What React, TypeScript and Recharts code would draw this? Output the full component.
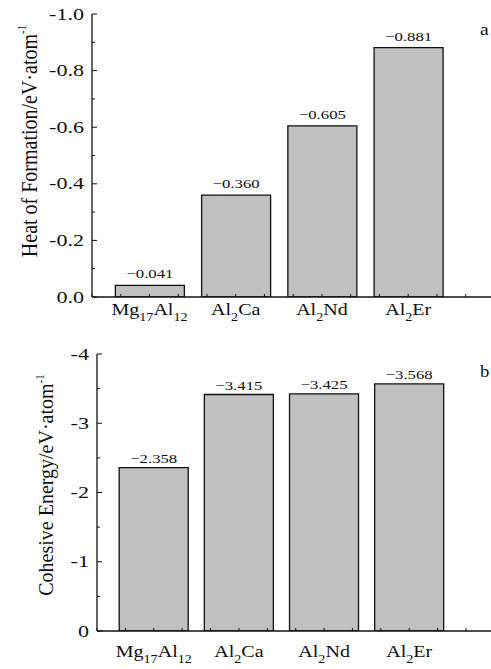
import React from "react"
import { Bar, BarChart, LabelList, XAxis, YAxis } from "recharts"

const CATEGORIES = ["Mg17Al12", "Al2Ca", "Al2Nd", "Al2Er"]
const HEAT_OF_FORMATION = [-0.041, -0.36, -0.605, -0.881]
const COHESIVE_ENERGY = [-2.358, -3.415, -3.425, -3.568]

const HEAT_TICKS = [-1, -0.9, -0.8, -0.7, -0.6, -0.5, -0.4, -0.3, -0.2, -0.1, 0]
const COHESIVE_TICKS = [-4, -3.5, -3, -2.5, -2, -1.5, -1, -0.5, 0]
// minor ticks along the category axis, every third of a slot
const X_TICKS = [1, 2, 3, 4, 5, 6, 7, 8, 9, 10, 11, 12, 13, 14].map((k) => k / 3)
const X_DOMAIN: [number, number] = [1 / 3, 4.96]
const TOP_TICKS = [1, 2, 3, 4, 5, 6, 7, 8, 9]

const FONT = '"Liberation Serif", "Times New Roman", serif'
const INK = "#111"
const BAR_FILL = "#c0c0c0"

const heatData = CATEGORIES.map((name, i) => ({ x: i + 1, name, value: HEAT_OF_FORMATION[i] }))
const cohesiveData = CATEGORIES.map((name, i) => ({ x: i + 1, name, value: COHESIVE_ENERGY[i] }))

function FormulaTick(props: any) {
    const { x, y, payload, labelGap } = props
    const v = payload.value
    const idx = Math.round(v) - 1
    const isCategory = Math.abs(v - Math.round(v)) < 1e-6 && idx >= 0 && idx < CATEGORIES.length
    const parts = isCategory ? CATEGORIES[idx].match(/\d+|\D+/g) ?? [] : []
    return (
        <g>
            <line x1={x} x2={x} y1={y} y2={y - 3} stroke={INK} strokeWidth={1} />
            {isCategory && (
                <text
                    transform={`translate(${x},${y + labelGap}) scale(1.18,1)`}
                    textAnchor="middle"
                    fontFamily={FONT}
                    fontSize={17}
                    fill={INK}
                >
                    {parts.map((p, i) =>
                        /\d/.test(p) ? (
                            <tspan key={i} fontSize={12} dy={6}>{p}</tspan>
                        ) : (
                            <tspan key={i} dy={i > 0 ? -6 : 0}>{p}</tspan>
                        )
                    )}
                </text>
            )}
        </g>
    )
}

function ValueTick(props: any) {
    const { x, y, payload, step, decimals } = props
    const v = payload.value
    const major = Math.abs(v / step - Math.round(v / step)) < 1e-6
    return (
        <g>
            <line x1={x} x2={x + (major ? 5 : 3)} y1={y} y2={y} stroke={INK} strokeWidth={1} />
            {major && (
                <text
                    transform={`translate(${x - 8},${y}) scale(1.38,1)`}
                    textAnchor="end"
                    dy="0.35em"
                    fontFamily={FONT}
                    fontSize={16}
                    fill={INK}
                >
                    {v.toFixed(decimals)}
                </text>
            )}
        </g>
    )
}

const valueLabel = (gap: number) => (props: any) => {
    const { x, y, width, height, value } = props
    const top = Math.min(y, y + height)
    return (
        <text
            transform={`translate(${x + width / 2},${top - gap}) scale(1.34,1)`}
            textAnchor="middle"
            fontFamily={FONT}
            fontSize={12.5}
            fill={INK}
        >
            {`\u2212${Math.abs(value).toFixed(3)}`}
        </text>
    )
}

const axisTitle = (text: string, baseX: number, shiftY: number, stretch: number) => (props: any) => {
    const vb = props.viewBox
    const cy = vb.y + vb.height / 2 + shiftY
    return (
        <text
            transform={`translate(${baseX},${cy}) rotate(-90) scale(1,${stretch})`}
            textAnchor="middle"
            fontFamily={FONT}
            fontSize={20}
            fill={INK}
        >
            {text}
            <tspan fontSize={11} dy={-9}>-1</tspan>
        </text>
    )
}

function HeatPanel() {
    return (
        <BarChart width={491} height={330} data={heatData} margin={{ top: 14, right: 0, bottom: 0, left: 0 }}>
            <XAxis
                dataKey="x"
                type="number"
                domain={X_DOMAIN}
                allowDataOverflow
                ticks={X_TICKS}
                interval={0}
                height={33}
                tickSize={0}
                tickMargin={0}
                tickLine={false}
                tick={(p: any) => <FormulaTick {...p} labelGap={18} />}
                axisLine={{ stroke: INK, strokeWidth: 1.3 }}
            />
            <XAxis
                xAxisId="top"
                orientation="top"
                dataKey="x"
                type="number"
                domain={X_DOMAIN}
                allowDataOverflow
                height={0}
                tick={false}
                tickLine={false}
                axisLine={{ stroke: INK, strokeWidth: 1.3 }}
            />
            <YAxis
                type="number"
                domain={[-1, 0]}
                reversed
                allowDataOverflow
                ticks={HEAT_TICKS}
                interval={0}
                width={92}
                tickSize={0}
                tickMargin={0}
                tickLine={false}
                tick={(p: any) => <ValueTick {...p} step={0.2} decimals={1} />}
                axisLine={{ stroke: INK, strokeWidth: 1.3 }}
                label={{ content: axisTitle("Heat of Formation/eV\u00b7atom", 36.5, -14.5, 1.2) }}
            />
            <Bar dataKey="value" fill={BAR_FILL} stroke={INK} strokeWidth={1.3} barSize={69} isAnimationActive={false}>
                <LabelList dataKey="value" content={valueLabel(7)} />
            </Bar>
        </BarChart>
    )
}

function CohesivePanel() {
    return (
        <BarChart width={491} height={339} data={cohesiveData} margin={{ top: 24, right: 0, bottom: 0, left: 0 }}>
            <XAxis
                dataKey="x"
                type="number"
                domain={X_DOMAIN}
                allowDataOverflow
                ticks={X_TICKS}
                interval={0}
                height={38}
                tickSize={0}
                tickMargin={0}
                tickLine={false}
                tick={(p: any) => <FormulaTick {...p} labelGap={26} />}
                axisLine={{ stroke: INK, strokeWidth: 1.3 }}
            />
            <XAxis
                xAxisId="top"
                orientation="top"
                type="number"
                domain={[0, 9.85]}
                allowDataOverflow
                ticks={TOP_TICKS}
                interval={0}
                height={0}
                mirror
                tickSize={3}
                tick={false}
                tickLine={{ stroke: "#999", strokeWidth: 0.8 }}
                axisLine={{ stroke: INK, strokeWidth: 1.3 }}
            />
            <YAxis
                type="number"
                domain={[-4, 0]}
                reversed
                allowDataOverflow
                ticks={COHESIVE_TICKS}
                interval={0}
                width={97}
                tickSize={0}
                tickMargin={0}
                tickLine={false}
                tick={(p: any) => <ValueTick {...p} step={1} decimals={0} />}
                axisLine={{ stroke: INK, strokeWidth: 1.3 }}
                label={{ content: axisTitle("Cohesive Energy/eV\u00b7atom", 53, -7.5, 1.05) }}
            />
            <Bar dataKey="value" fill={BAR_FILL} stroke={INK} strokeWidth={1.3} barSize={69} isAnimationActive={false}>
                <LabelList dataKey="value" content={valueLabel(5)} />
            </Bar>
        </BarChart>
    )
}

export default function App() {
    return (
        <div style={{ position: "absolute", left: 0, top: 0, width: 491, height: 669, background: "#fff" }}>
            <div style={{ position: "absolute", left: 0, top: 0 }}>
                <HeatPanel />
            </div>
            <div style={{ position: "absolute", left: 0, top: 330 }}>
                <CohesivePanel />
            </div>
            <svg
                width={491}
                height={669}
                style={{ position: "absolute", left: 0, top: 0, pointerEvents: "none" }}
            >
                <text transform="translate(480,35) scale(1.15,1)" fontFamily={FONT} fontSize={17} fill={INK}>a</text>
                <text transform="translate(480,377) scale(1.1,1)" fontFamily={FONT} fontSize={17} fill={INK}>b</text>
            </svg>
        </div>
    )
}
